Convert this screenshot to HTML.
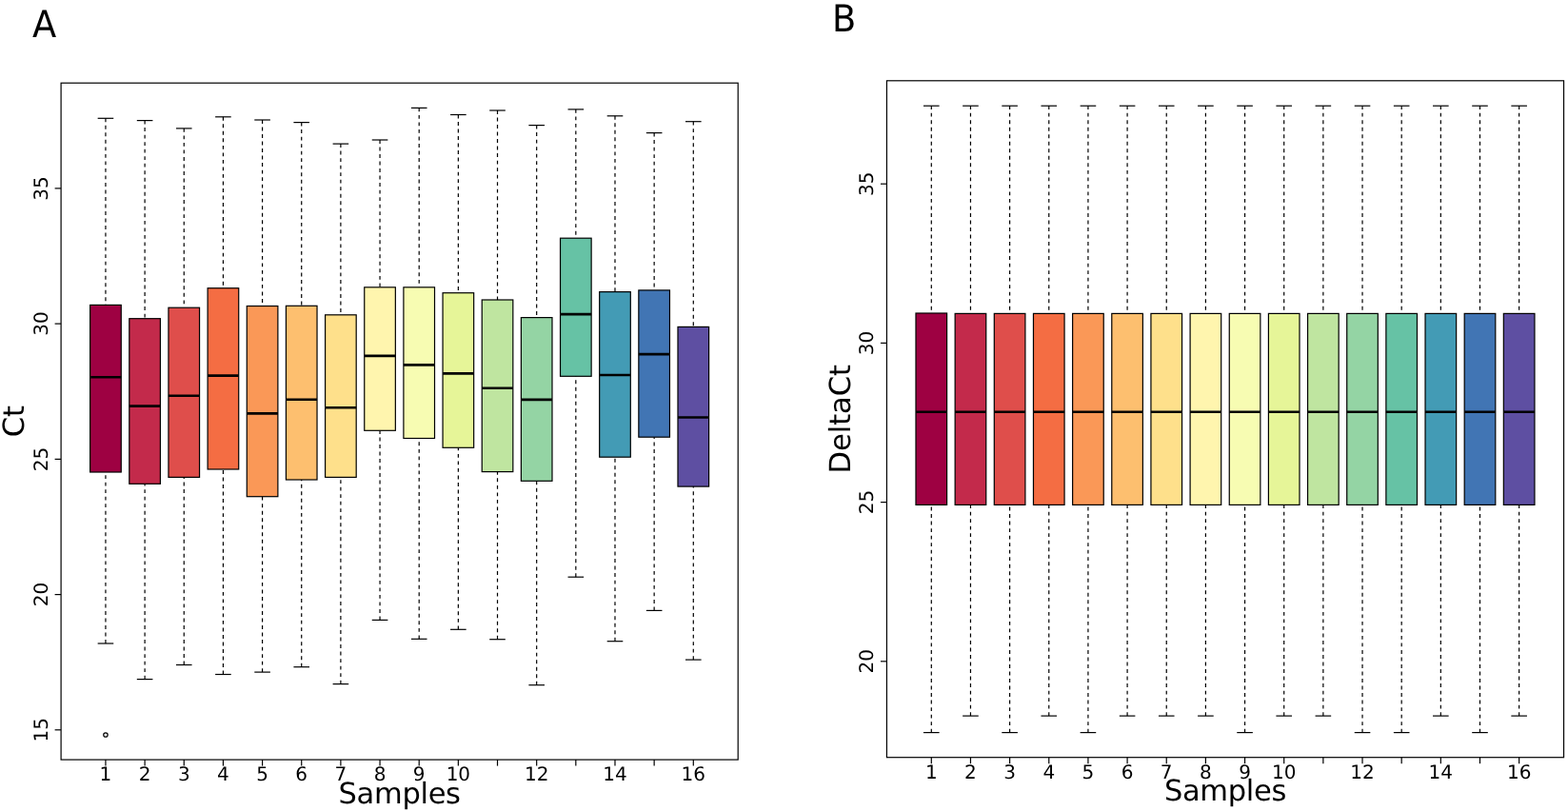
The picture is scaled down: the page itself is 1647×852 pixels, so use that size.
<!DOCTYPE html>
<html><head><meta charset="utf-8"><title>Boxplots</title>
<style>
html,body{margin:0;padding:0;background:#fff;}
body{width:1647px;height:852px;overflow:hidden;}
svg{display:block;}
</style></head>
<body>
<svg width="1647" height="852" viewBox="0 0 1647 852">
<rect width="1647" height="852" fill="#fff"/>
<text x="34.1" y="39" font-size="39" transform="translate(34.1 0) scale(0.945 1) translate(-34.1 0)" font-family="DejaVu Sans, Liberation Sans, sans-serif" text-rendering="geometricPrecision">A</text>
<text x="873.9" y="33.0" font-size="39" transform="translate(873.9 0) scale(0.945 1) translate(-873.9 0)" font-family="DejaVu Sans, Liberation Sans, sans-serif" text-rendering="geometricPrecision">B</text>
<line x1="110.95" y1="124.3" x2="110.95" y2="320.4" stroke="#000" stroke-width="1.2" stroke-dasharray="3.9 3.62"/>
<line x1="110.95" y1="676.0" x2="110.95" y2="496.0" stroke="#000" stroke-width="1.2" stroke-dasharray="3.9 3.62"/>
<line x1="102.65" y1="124.3" x2="119.25" y2="124.3" stroke="#000" stroke-width="1.2"/>
<line x1="102.65" y1="676.0" x2="119.25" y2="676.0" stroke="#000" stroke-width="1.2"/>
<rect x="94.65" y="320.4" width="32.60" height="175.60" fill="#9E0142" stroke="#000" stroke-width="1.2"/>
<line x1="94.65" y1="396.30" x2="127.25" y2="396.30" stroke="#000" stroke-width="2.6"/>
<line x1="152.11" y1="126.6" x2="152.11" y2="334.7" stroke="#000" stroke-width="1.2" stroke-dasharray="3.9 3.62"/>
<line x1="152.11" y1="713.6" x2="152.11" y2="508.3" stroke="#000" stroke-width="1.2" stroke-dasharray="3.9 3.62"/>
<line x1="143.81" y1="126.6" x2="160.41" y2="126.6" stroke="#000" stroke-width="1.2"/>
<line x1="143.81" y1="713.6" x2="160.41" y2="713.6" stroke="#000" stroke-width="1.2"/>
<rect x="135.81" y="334.7" width="32.60" height="173.60" fill="#C32A4B" stroke="#000" stroke-width="1.2"/>
<line x1="135.81" y1="426.60" x2="168.41" y2="426.60" stroke="#000" stroke-width="2.6"/>
<line x1="193.26" y1="134.9" x2="193.26" y2="323.2" stroke="#000" stroke-width="1.2" stroke-dasharray="3.9 3.62"/>
<line x1="193.26" y1="698.5" x2="193.26" y2="501.4" stroke="#000" stroke-width="1.2" stroke-dasharray="3.9 3.62"/>
<line x1="184.96" y1="134.9" x2="201.56" y2="134.9" stroke="#000" stroke-width="1.2"/>
<line x1="184.96" y1="698.5" x2="201.56" y2="698.5" stroke="#000" stroke-width="1.2"/>
<rect x="176.96" y="323.2" width="32.60" height="178.20" fill="#DF4E4B" stroke="#000" stroke-width="1.2"/>
<line x1="176.96" y1="415.80" x2="209.56" y2="415.80" stroke="#000" stroke-width="2.6"/>
<line x1="234.42" y1="122.8" x2="234.42" y2="302.7" stroke="#000" stroke-width="1.2" stroke-dasharray="3.9 3.62"/>
<line x1="234.42" y1="708.5" x2="234.42" y2="493.0" stroke="#000" stroke-width="1.2" stroke-dasharray="3.9 3.62"/>
<line x1="226.12" y1="122.8" x2="242.72" y2="122.8" stroke="#000" stroke-width="1.2"/>
<line x1="226.12" y1="708.5" x2="242.72" y2="708.5" stroke="#000" stroke-width="1.2"/>
<rect x="218.12" y="302.7" width="32.60" height="190.30" fill="#F46D43" stroke="#000" stroke-width="1.2"/>
<line x1="218.12" y1="394.60" x2="250.72" y2="394.60" stroke="#000" stroke-width="2.6"/>
<line x1="275.58" y1="126.0" x2="275.58" y2="321.5" stroke="#000" stroke-width="1.2" stroke-dasharray="3.9 3.62"/>
<line x1="275.58" y1="706.1" x2="275.58" y2="521.7" stroke="#000" stroke-width="1.2" stroke-dasharray="3.9 3.62"/>
<line x1="267.28" y1="126.0" x2="283.88" y2="126.0" stroke="#000" stroke-width="1.2"/>
<line x1="267.28" y1="706.1" x2="283.88" y2="706.1" stroke="#000" stroke-width="1.2"/>
<rect x="259.28" y="321.5" width="32.60" height="200.20" fill="#FA9857" stroke="#000" stroke-width="1.2"/>
<line x1="259.28" y1="434.40" x2="291.88" y2="434.40" stroke="#000" stroke-width="2.6"/>
<line x1="316.73" y1="128.6" x2="316.73" y2="321.3" stroke="#000" stroke-width="1.2" stroke-dasharray="3.9 3.62"/>
<line x1="316.73" y1="700.7" x2="316.73" y2="504.0" stroke="#000" stroke-width="1.2" stroke-dasharray="3.9 3.62"/>
<line x1="308.43" y1="128.6" x2="325.03" y2="128.6" stroke="#000" stroke-width="1.2"/>
<line x1="308.43" y1="700.7" x2="325.03" y2="700.7" stroke="#000" stroke-width="1.2"/>
<rect x="300.43" y="321.3" width="32.60" height="182.70" fill="#FDBF6F" stroke="#000" stroke-width="1.2"/>
<line x1="300.43" y1="419.70" x2="333.03" y2="419.70" stroke="#000" stroke-width="2.6"/>
<line x1="357.89" y1="151.1" x2="357.89" y2="330.8" stroke="#000" stroke-width="1.2" stroke-dasharray="3.9 3.62"/>
<line x1="357.89" y1="718.6" x2="357.89" y2="501.4" stroke="#000" stroke-width="1.2" stroke-dasharray="3.9 3.62"/>
<line x1="349.59" y1="151.1" x2="366.19" y2="151.1" stroke="#000" stroke-width="1.2"/>
<line x1="349.59" y1="718.6" x2="366.19" y2="718.6" stroke="#000" stroke-width="1.2"/>
<rect x="341.59" y="330.8" width="32.60" height="170.60" fill="#FEE08B" stroke="#000" stroke-width="1.2"/>
<line x1="341.59" y1="428.30" x2="374.19" y2="428.30" stroke="#000" stroke-width="2.6"/>
<line x1="399.05" y1="147.0" x2="399.05" y2="301.8" stroke="#000" stroke-width="1.2" stroke-dasharray="3.9 3.62"/>
<line x1="399.05" y1="651.4" x2="399.05" y2="452.3" stroke="#000" stroke-width="1.2" stroke-dasharray="3.9 3.62"/>
<line x1="390.75" y1="147.0" x2="407.35" y2="147.0" stroke="#000" stroke-width="1.2"/>
<line x1="390.75" y1="651.4" x2="407.35" y2="651.4" stroke="#000" stroke-width="1.2"/>
<rect x="382.75" y="301.8" width="32.60" height="150.50" fill="#FFF5AE" stroke="#000" stroke-width="1.2"/>
<line x1="382.75" y1="373.90" x2="415.35" y2="373.90" stroke="#000" stroke-width="2.6"/>
<line x1="440.21" y1="113.4" x2="440.21" y2="301.8" stroke="#000" stroke-width="1.2" stroke-dasharray="3.9 3.62"/>
<line x1="440.21" y1="671.3" x2="440.21" y2="460.5" stroke="#000" stroke-width="1.2" stroke-dasharray="3.9 3.62"/>
<line x1="431.91" y1="113.4" x2="448.51" y2="113.4" stroke="#000" stroke-width="1.2"/>
<line x1="431.91" y1="671.3" x2="448.51" y2="671.3" stroke="#000" stroke-width="1.2"/>
<rect x="423.91" y="301.8" width="32.60" height="158.70" fill="#F7FCB2" stroke="#000" stroke-width="1.2"/>
<line x1="423.91" y1="383.40" x2="456.51" y2="383.40" stroke="#000" stroke-width="2.6"/>
<line x1="481.36" y1="120.5" x2="481.36" y2="307.7" stroke="#000" stroke-width="1.2" stroke-dasharray="3.9 3.62"/>
<line x1="481.36" y1="661.3" x2="481.36" y2="470.3" stroke="#000" stroke-width="1.2" stroke-dasharray="3.9 3.62"/>
<line x1="473.06" y1="120.5" x2="489.66" y2="120.5" stroke="#000" stroke-width="1.2"/>
<line x1="473.06" y1="661.3" x2="489.66" y2="661.3" stroke="#000" stroke-width="1.2"/>
<rect x="465.06" y="307.7" width="32.60" height="162.60" fill="#E6F598" stroke="#000" stroke-width="1.2"/>
<line x1="465.06" y1="392.40" x2="497.66" y2="392.40" stroke="#000" stroke-width="2.6"/>
<line x1="522.52" y1="116.0" x2="522.52" y2="315.0" stroke="#000" stroke-width="1.2" stroke-dasharray="3.9 3.62"/>
<line x1="522.52" y1="671.7" x2="522.52" y2="495.6" stroke="#000" stroke-width="1.2" stroke-dasharray="3.9 3.62"/>
<line x1="514.22" y1="116.0" x2="530.82" y2="116.0" stroke="#000" stroke-width="1.2"/>
<line x1="514.22" y1="671.7" x2="530.82" y2="671.7" stroke="#000" stroke-width="1.2"/>
<rect x="506.22" y="315.0" width="32.60" height="180.60" fill="#BFE5A0" stroke="#000" stroke-width="1.2"/>
<line x1="506.22" y1="407.80" x2="538.82" y2="407.80" stroke="#000" stroke-width="2.6"/>
<line x1="563.68" y1="131.6" x2="563.68" y2="333.6" stroke="#000" stroke-width="1.2" stroke-dasharray="3.9 3.62"/>
<line x1="563.68" y1="719.7" x2="563.68" y2="505.3" stroke="#000" stroke-width="1.2" stroke-dasharray="3.9 3.62"/>
<line x1="555.38" y1="131.6" x2="571.98" y2="131.6" stroke="#000" stroke-width="1.2"/>
<line x1="555.38" y1="719.7" x2="571.98" y2="719.7" stroke="#000" stroke-width="1.2"/>
<rect x="547.38" y="333.6" width="32.60" height="171.70" fill="#94D4A4" stroke="#000" stroke-width="1.2"/>
<line x1="547.38" y1="419.90" x2="579.98" y2="419.90" stroke="#000" stroke-width="2.6"/>
<line x1="604.83" y1="114.9" x2="604.83" y2="250.2" stroke="#000" stroke-width="1.2" stroke-dasharray="3.9 3.62"/>
<line x1="604.83" y1="606.2" x2="604.83" y2="395.3" stroke="#000" stroke-width="1.2" stroke-dasharray="3.9 3.62"/>
<line x1="596.53" y1="114.9" x2="613.13" y2="114.9" stroke="#000" stroke-width="1.2"/>
<line x1="596.53" y1="606.2" x2="613.13" y2="606.2" stroke="#000" stroke-width="1.2"/>
<rect x="588.53" y="250.2" width="32.60" height="145.10" fill="#66C2A5" stroke="#000" stroke-width="1.2"/>
<line x1="588.53" y1="330.10" x2="621.13" y2="330.10" stroke="#000" stroke-width="2.6"/>
<line x1="645.99" y1="121.8" x2="645.99" y2="306.6" stroke="#000" stroke-width="1.2" stroke-dasharray="3.9 3.62"/>
<line x1="645.99" y1="673.7" x2="645.99" y2="480.2" stroke="#000" stroke-width="1.2" stroke-dasharray="3.9 3.62"/>
<line x1="637.69" y1="121.8" x2="654.29" y2="121.8" stroke="#000" stroke-width="1.2"/>
<line x1="637.69" y1="673.7" x2="654.29" y2="673.7" stroke="#000" stroke-width="1.2"/>
<rect x="629.69" y="306.6" width="32.60" height="173.60" fill="#439BB5" stroke="#000" stroke-width="1.2"/>
<line x1="629.69" y1="394.00" x2="662.29" y2="394.00" stroke="#000" stroke-width="2.6"/>
<line x1="687.15" y1="139.6" x2="687.15" y2="304.9" stroke="#000" stroke-width="1.2" stroke-dasharray="3.9 3.62"/>
<line x1="687.15" y1="641.4" x2="687.15" y2="459.2" stroke="#000" stroke-width="1.2" stroke-dasharray="3.9 3.62"/>
<line x1="678.85" y1="139.6" x2="695.45" y2="139.6" stroke="#000" stroke-width="1.2"/>
<line x1="678.85" y1="641.4" x2="695.45" y2="641.4" stroke="#000" stroke-width="1.2"/>
<rect x="670.85" y="304.9" width="32.60" height="154.30" fill="#4175B4" stroke="#000" stroke-width="1.2"/>
<line x1="670.85" y1="372.10" x2="703.45" y2="372.10" stroke="#000" stroke-width="2.6"/>
<line x1="728.30" y1="127.7" x2="728.30" y2="343.4" stroke="#000" stroke-width="1.2" stroke-dasharray="3.9 3.62"/>
<line x1="728.30" y1="693.1" x2="728.30" y2="511.1" stroke="#000" stroke-width="1.2" stroke-dasharray="3.9 3.62"/>
<line x1="720.00" y1="127.7" x2="736.60" y2="127.7" stroke="#000" stroke-width="1.2"/>
<line x1="720.00" y1="693.1" x2="736.60" y2="693.1" stroke="#000" stroke-width="1.2"/>
<rect x="712.00" y="343.4" width="32.60" height="167.70" fill="#5E4FA2" stroke="#000" stroke-width="1.2"/>
<line x1="712.00" y1="438.50" x2="744.60" y2="438.50" stroke="#000" stroke-width="2.6"/>
<circle cx="110.95" cy="771.98" r="2.2" fill="none" stroke="#000" stroke-width="1.2"/>
<rect x="64.1" y="87.2" width="711.10" height="710.90" fill="none" stroke="#000" stroke-width="1.2"/>
<line x1="110.95" y1="798.1" x2="110.95" y2="804.60" stroke="#000" stroke-width="1.2"/>
<text x="110.95" y="820.20" font-size="20" text-anchor="middle" font-family="DejaVu Sans, Liberation Sans, sans-serif" text-rendering="geometricPrecision">1</text>
<line x1="152.11" y1="798.1" x2="152.11" y2="804.60" stroke="#000" stroke-width="1.2"/>
<text x="152.11" y="820.20" font-size="20" text-anchor="middle" font-family="DejaVu Sans, Liberation Sans, sans-serif" text-rendering="geometricPrecision">2</text>
<line x1="193.26" y1="798.1" x2="193.26" y2="804.60" stroke="#000" stroke-width="1.2"/>
<text x="193.26" y="820.20" font-size="20" text-anchor="middle" font-family="DejaVu Sans, Liberation Sans, sans-serif" text-rendering="geometricPrecision">3</text>
<line x1="234.42" y1="798.1" x2="234.42" y2="804.60" stroke="#000" stroke-width="1.2"/>
<text x="234.42" y="820.20" font-size="20" text-anchor="middle" font-family="DejaVu Sans, Liberation Sans, sans-serif" text-rendering="geometricPrecision">4</text>
<line x1="275.58" y1="798.1" x2="275.58" y2="804.60" stroke="#000" stroke-width="1.2"/>
<text x="275.58" y="820.20" font-size="20" text-anchor="middle" font-family="DejaVu Sans, Liberation Sans, sans-serif" text-rendering="geometricPrecision">5</text>
<line x1="316.73" y1="798.1" x2="316.73" y2="804.60" stroke="#000" stroke-width="1.2"/>
<text x="316.73" y="820.20" font-size="20" text-anchor="middle" font-family="DejaVu Sans, Liberation Sans, sans-serif" text-rendering="geometricPrecision">6</text>
<line x1="357.89" y1="798.1" x2="357.89" y2="804.60" stroke="#000" stroke-width="1.2"/>
<text x="357.89" y="820.20" font-size="20" text-anchor="middle" font-family="DejaVu Sans, Liberation Sans, sans-serif" text-rendering="geometricPrecision">7</text>
<line x1="399.05" y1="798.1" x2="399.05" y2="804.60" stroke="#000" stroke-width="1.2"/>
<text x="399.05" y="820.20" font-size="20" text-anchor="middle" font-family="DejaVu Sans, Liberation Sans, sans-serif" text-rendering="geometricPrecision">8</text>
<line x1="440.21" y1="798.1" x2="440.21" y2="804.60" stroke="#000" stroke-width="1.2"/>
<text x="440.21" y="820.20" font-size="20" text-anchor="middle" font-family="DejaVu Sans, Liberation Sans, sans-serif" text-rendering="geometricPrecision">9</text>
<line x1="481.36" y1="798.1" x2="481.36" y2="804.60" stroke="#000" stroke-width="1.2"/>
<text x="481.36" y="820.20" font-size="20" text-anchor="middle" font-family="DejaVu Sans, Liberation Sans, sans-serif" text-rendering="geometricPrecision">10</text>
<line x1="522.52" y1="798.1" x2="522.52" y2="804.60" stroke="#000" stroke-width="1.2"/>
<line x1="563.68" y1="798.1" x2="563.68" y2="804.60" stroke="#000" stroke-width="1.2"/>
<text x="563.68" y="820.20" font-size="20" text-anchor="middle" font-family="DejaVu Sans, Liberation Sans, sans-serif" text-rendering="geometricPrecision">12</text>
<line x1="604.83" y1="798.1" x2="604.83" y2="804.60" stroke="#000" stroke-width="1.2"/>
<line x1="645.99" y1="798.1" x2="645.99" y2="804.60" stroke="#000" stroke-width="1.2"/>
<text x="645.99" y="820.20" font-size="20" text-anchor="middle" font-family="DejaVu Sans, Liberation Sans, sans-serif" text-rendering="geometricPrecision">14</text>
<line x1="687.15" y1="798.1" x2="687.15" y2="804.60" stroke="#000" stroke-width="1.2"/>
<line x1="728.30" y1="798.1" x2="728.30" y2="804.60" stroke="#000" stroke-width="1.2"/>
<text x="728.30" y="820.20" font-size="20" text-anchor="middle" font-family="DejaVu Sans, Liberation Sans, sans-serif" text-rendering="geometricPrecision">16</text>
<line x1="57.60" y1="766.8" x2="64.1" y2="766.8" stroke="#000" stroke-width="1.2"/>
<text x="50.10" y="766.8" font-size="20" text-anchor="middle" transform="rotate(-90 50.10 766.8)" font-family="DejaVu Sans, Liberation Sans, sans-serif" text-rendering="geometricPrecision">15</text>
<line x1="57.60" y1="624.6" x2="64.1" y2="624.6" stroke="#000" stroke-width="1.2"/>
<text x="50.10" y="624.6" font-size="20" text-anchor="middle" transform="rotate(-90 50.10 624.6)" font-family="DejaVu Sans, Liberation Sans, sans-serif" text-rendering="geometricPrecision">20</text>
<line x1="57.60" y1="482.4" x2="64.1" y2="482.4" stroke="#000" stroke-width="1.2"/>
<text x="50.10" y="482.4" font-size="20" text-anchor="middle" transform="rotate(-90 50.10 482.4)" font-family="DejaVu Sans, Liberation Sans, sans-serif" text-rendering="geometricPrecision">25</text>
<line x1="57.60" y1="340.1" x2="64.1" y2="340.1" stroke="#000" stroke-width="1.2"/>
<text x="50.10" y="340.1" font-size="20" text-anchor="middle" transform="rotate(-90 50.10 340.1)" font-family="DejaVu Sans, Liberation Sans, sans-serif" text-rendering="geometricPrecision">30</text>
<line x1="57.60" y1="197.9" x2="64.1" y2="197.9" stroke="#000" stroke-width="1.2"/>
<text x="50.10" y="197.9" font-size="20" text-anchor="middle" transform="rotate(-90 50.10 197.9)" font-family="DejaVu Sans, Liberation Sans, sans-serif" text-rendering="geometricPrecision">35</text>
<text x="419.65" y="843.70" font-size="30.5" letter-spacing="-0.3" text-anchor="middle" font-family="DejaVu Sans, Liberation Sans, sans-serif" text-rendering="geometricPrecision">Samples</text>
<text x="25.20" y="442.65" font-size="30.5" text-anchor="middle" transform="rotate(-90 25.20 442.65)" font-family="DejaVu Sans, Liberation Sans, sans-serif" text-rendering="geometricPrecision">Ct</text>
<line x1="978.30" y1="111.2" x2="978.30" y2="329.0" stroke="#000" stroke-width="1.2" stroke-dasharray="3.9 3.62"/>
<line x1="978.30" y1="769.6" x2="978.30" y2="530.4" stroke="#000" stroke-width="1.2" stroke-dasharray="3.9 3.62"/>
<line x1="970.00" y1="111.2" x2="986.60" y2="111.2" stroke="#000" stroke-width="1.2"/>
<line x1="970.00" y1="769.6" x2="986.60" y2="769.6" stroke="#000" stroke-width="1.2"/>
<rect x="962.00" y="329.0" width="32.60" height="201.40" fill="#9E0142" stroke="#000" stroke-width="1.2"/>
<line x1="962.00" y1="432.80" x2="994.60" y2="432.80" stroke="#000" stroke-width="2.6"/>
<line x1="1019.46" y1="111.2" x2="1019.46" y2="329.4" stroke="#000" stroke-width="1.2" stroke-dasharray="3.9 3.62"/>
<line x1="1019.46" y1="752.1" x2="1019.46" y2="530.4" stroke="#000" stroke-width="1.2" stroke-dasharray="3.9 3.62"/>
<line x1="1011.16" y1="111.2" x2="1027.76" y2="111.2" stroke="#000" stroke-width="1.2"/>
<line x1="1011.16" y1="752.1" x2="1027.76" y2="752.1" stroke="#000" stroke-width="1.2"/>
<rect x="1003.16" y="329.4" width="32.60" height="201.00" fill="#C32A4B" stroke="#000" stroke-width="1.2"/>
<line x1="1003.16" y1="432.80" x2="1035.76" y2="432.80" stroke="#000" stroke-width="2.6"/>
<line x1="1060.61" y1="111.2" x2="1060.61" y2="329.4" stroke="#000" stroke-width="1.2" stroke-dasharray="3.9 3.62"/>
<line x1="1060.61" y1="769.6" x2="1060.61" y2="530.4" stroke="#000" stroke-width="1.2" stroke-dasharray="3.9 3.62"/>
<line x1="1052.31" y1="111.2" x2="1068.91" y2="111.2" stroke="#000" stroke-width="1.2"/>
<line x1="1052.31" y1="769.6" x2="1068.91" y2="769.6" stroke="#000" stroke-width="1.2"/>
<rect x="1044.31" y="329.4" width="32.60" height="201.00" fill="#DF4E4B" stroke="#000" stroke-width="1.2"/>
<line x1="1044.31" y1="432.80" x2="1076.91" y2="432.80" stroke="#000" stroke-width="2.6"/>
<line x1="1101.77" y1="111.2" x2="1101.77" y2="329.4" stroke="#000" stroke-width="1.2" stroke-dasharray="3.9 3.62"/>
<line x1="1101.77" y1="752.1" x2="1101.77" y2="530.4" stroke="#000" stroke-width="1.2" stroke-dasharray="3.9 3.62"/>
<line x1="1093.47" y1="111.2" x2="1110.07" y2="111.2" stroke="#000" stroke-width="1.2"/>
<line x1="1093.47" y1="752.1" x2="1110.07" y2="752.1" stroke="#000" stroke-width="1.2"/>
<rect x="1085.47" y="329.4" width="32.60" height="201.00" fill="#F46D43" stroke="#000" stroke-width="1.2"/>
<line x1="1085.47" y1="432.80" x2="1118.07" y2="432.80" stroke="#000" stroke-width="2.6"/>
<line x1="1142.93" y1="111.2" x2="1142.93" y2="329.4" stroke="#000" stroke-width="1.2" stroke-dasharray="3.9 3.62"/>
<line x1="1142.93" y1="769.6" x2="1142.93" y2="530.4" stroke="#000" stroke-width="1.2" stroke-dasharray="3.9 3.62"/>
<line x1="1134.63" y1="111.2" x2="1151.23" y2="111.2" stroke="#000" stroke-width="1.2"/>
<line x1="1134.63" y1="769.6" x2="1151.23" y2="769.6" stroke="#000" stroke-width="1.2"/>
<rect x="1126.63" y="329.4" width="32.60" height="201.00" fill="#FA9857" stroke="#000" stroke-width="1.2"/>
<line x1="1126.63" y1="432.80" x2="1159.23" y2="432.80" stroke="#000" stroke-width="2.6"/>
<line x1="1184.09" y1="111.2" x2="1184.09" y2="329.4" stroke="#000" stroke-width="1.2" stroke-dasharray="3.9 3.62"/>
<line x1="1184.09" y1="752.1" x2="1184.09" y2="530.4" stroke="#000" stroke-width="1.2" stroke-dasharray="3.9 3.62"/>
<line x1="1175.79" y1="111.2" x2="1192.38" y2="111.2" stroke="#000" stroke-width="1.2"/>
<line x1="1175.79" y1="752.1" x2="1192.38" y2="752.1" stroke="#000" stroke-width="1.2"/>
<rect x="1167.79" y="329.4" width="32.60" height="201.00" fill="#FDBF6F" stroke="#000" stroke-width="1.2"/>
<line x1="1167.79" y1="432.80" x2="1200.38" y2="432.80" stroke="#000" stroke-width="2.6"/>
<line x1="1225.24" y1="111.2" x2="1225.24" y2="329.4" stroke="#000" stroke-width="1.2" stroke-dasharray="3.9 3.62"/>
<line x1="1225.24" y1="752.1" x2="1225.24" y2="530.4" stroke="#000" stroke-width="1.2" stroke-dasharray="3.9 3.62"/>
<line x1="1216.94" y1="111.2" x2="1233.54" y2="111.2" stroke="#000" stroke-width="1.2"/>
<line x1="1216.94" y1="752.1" x2="1233.54" y2="752.1" stroke="#000" stroke-width="1.2"/>
<rect x="1208.94" y="329.4" width="32.60" height="201.00" fill="#FEE08B" stroke="#000" stroke-width="1.2"/>
<line x1="1208.94" y1="432.80" x2="1241.54" y2="432.80" stroke="#000" stroke-width="2.6"/>
<line x1="1266.40" y1="111.2" x2="1266.40" y2="329.4" stroke="#000" stroke-width="1.2" stroke-dasharray="3.9 3.62"/>
<line x1="1266.40" y1="752.1" x2="1266.40" y2="530.4" stroke="#000" stroke-width="1.2" stroke-dasharray="3.9 3.62"/>
<line x1="1258.10" y1="111.2" x2="1274.70" y2="111.2" stroke="#000" stroke-width="1.2"/>
<line x1="1258.10" y1="752.1" x2="1274.70" y2="752.1" stroke="#000" stroke-width="1.2"/>
<rect x="1250.10" y="329.4" width="32.60" height="201.00" fill="#FFF5AE" stroke="#000" stroke-width="1.2"/>
<line x1="1250.10" y1="432.80" x2="1282.70" y2="432.80" stroke="#000" stroke-width="2.6"/>
<line x1="1307.56" y1="111.2" x2="1307.56" y2="329.4" stroke="#000" stroke-width="1.2" stroke-dasharray="3.9 3.62"/>
<line x1="1307.56" y1="769.6" x2="1307.56" y2="530.4" stroke="#000" stroke-width="1.2" stroke-dasharray="3.9 3.62"/>
<line x1="1299.26" y1="111.2" x2="1315.86" y2="111.2" stroke="#000" stroke-width="1.2"/>
<line x1="1299.26" y1="769.6" x2="1315.86" y2="769.6" stroke="#000" stroke-width="1.2"/>
<rect x="1291.26" y="329.4" width="32.60" height="201.00" fill="#F7FCB2" stroke="#000" stroke-width="1.2"/>
<line x1="1291.26" y1="432.80" x2="1323.86" y2="432.80" stroke="#000" stroke-width="2.6"/>
<line x1="1348.71" y1="111.2" x2="1348.71" y2="329.4" stroke="#000" stroke-width="1.2" stroke-dasharray="3.9 3.62"/>
<line x1="1348.71" y1="752.1" x2="1348.71" y2="530.4" stroke="#000" stroke-width="1.2" stroke-dasharray="3.9 3.62"/>
<line x1="1340.41" y1="111.2" x2="1357.01" y2="111.2" stroke="#000" stroke-width="1.2"/>
<line x1="1340.41" y1="752.1" x2="1357.01" y2="752.1" stroke="#000" stroke-width="1.2"/>
<rect x="1332.41" y="329.4" width="32.60" height="201.00" fill="#E6F598" stroke="#000" stroke-width="1.2"/>
<line x1="1332.41" y1="432.80" x2="1365.01" y2="432.80" stroke="#000" stroke-width="2.6"/>
<line x1="1389.87" y1="111.2" x2="1389.87" y2="329.4" stroke="#000" stroke-width="1.2" stroke-dasharray="3.9 3.62"/>
<line x1="1389.87" y1="752.1" x2="1389.87" y2="530.4" stroke="#000" stroke-width="1.2" stroke-dasharray="3.9 3.62"/>
<line x1="1381.57" y1="111.2" x2="1398.17" y2="111.2" stroke="#000" stroke-width="1.2"/>
<line x1="1381.57" y1="752.1" x2="1398.17" y2="752.1" stroke="#000" stroke-width="1.2"/>
<rect x="1373.57" y="329.4" width="32.60" height="201.00" fill="#BFE5A0" stroke="#000" stroke-width="1.2"/>
<line x1="1373.57" y1="432.80" x2="1406.17" y2="432.80" stroke="#000" stroke-width="2.6"/>
<line x1="1431.03" y1="111.2" x2="1431.03" y2="329.4" stroke="#000" stroke-width="1.2" stroke-dasharray="3.9 3.62"/>
<line x1="1431.03" y1="769.6" x2="1431.03" y2="530.4" stroke="#000" stroke-width="1.2" stroke-dasharray="3.9 3.62"/>
<line x1="1422.73" y1="111.2" x2="1439.33" y2="111.2" stroke="#000" stroke-width="1.2"/>
<line x1="1422.73" y1="769.6" x2="1439.33" y2="769.6" stroke="#000" stroke-width="1.2"/>
<rect x="1414.73" y="329.4" width="32.60" height="201.00" fill="#94D4A4" stroke="#000" stroke-width="1.2"/>
<line x1="1414.73" y1="432.80" x2="1447.33" y2="432.80" stroke="#000" stroke-width="2.6"/>
<line x1="1472.18" y1="111.2" x2="1472.18" y2="329.4" stroke="#000" stroke-width="1.2" stroke-dasharray="3.9 3.62"/>
<line x1="1472.18" y1="769.6" x2="1472.18" y2="530.4" stroke="#000" stroke-width="1.2" stroke-dasharray="3.9 3.62"/>
<line x1="1463.88" y1="111.2" x2="1480.48" y2="111.2" stroke="#000" stroke-width="1.2"/>
<line x1="1463.88" y1="769.6" x2="1480.48" y2="769.6" stroke="#000" stroke-width="1.2"/>
<rect x="1455.88" y="329.4" width="32.60" height="201.00" fill="#66C2A5" stroke="#000" stroke-width="1.2"/>
<line x1="1455.88" y1="432.80" x2="1488.48" y2="432.80" stroke="#000" stroke-width="2.6"/>
<line x1="1513.34" y1="111.2" x2="1513.34" y2="329.4" stroke="#000" stroke-width="1.2" stroke-dasharray="3.9 3.62"/>
<line x1="1513.34" y1="752.1" x2="1513.34" y2="530.4" stroke="#000" stroke-width="1.2" stroke-dasharray="3.9 3.62"/>
<line x1="1505.04" y1="111.2" x2="1521.64" y2="111.2" stroke="#000" stroke-width="1.2"/>
<line x1="1505.04" y1="752.1" x2="1521.64" y2="752.1" stroke="#000" stroke-width="1.2"/>
<rect x="1497.04" y="329.4" width="32.60" height="201.00" fill="#439BB5" stroke="#000" stroke-width="1.2"/>
<line x1="1497.04" y1="432.80" x2="1529.64" y2="432.80" stroke="#000" stroke-width="2.6"/>
<line x1="1554.50" y1="111.2" x2="1554.50" y2="329.4" stroke="#000" stroke-width="1.2" stroke-dasharray="3.9 3.62"/>
<line x1="1554.50" y1="769.6" x2="1554.50" y2="530.4" stroke="#000" stroke-width="1.2" stroke-dasharray="3.9 3.62"/>
<line x1="1546.20" y1="111.2" x2="1562.80" y2="111.2" stroke="#000" stroke-width="1.2"/>
<line x1="1546.20" y1="769.6" x2="1562.80" y2="769.6" stroke="#000" stroke-width="1.2"/>
<rect x="1538.20" y="329.4" width="32.60" height="201.00" fill="#4175B4" stroke="#000" stroke-width="1.2"/>
<line x1="1538.20" y1="432.80" x2="1570.80" y2="432.80" stroke="#000" stroke-width="2.6"/>
<line x1="1595.65" y1="111.2" x2="1595.65" y2="329.4" stroke="#000" stroke-width="1.2" stroke-dasharray="3.9 3.62"/>
<line x1="1595.65" y1="752.1" x2="1595.65" y2="530.4" stroke="#000" stroke-width="1.2" stroke-dasharray="3.9 3.62"/>
<line x1="1587.35" y1="111.2" x2="1603.95" y2="111.2" stroke="#000" stroke-width="1.2"/>
<line x1="1587.35" y1="752.1" x2="1603.95" y2="752.1" stroke="#000" stroke-width="1.2"/>
<rect x="1579.35" y="329.4" width="32.60" height="201.00" fill="#5E4FA2" stroke="#000" stroke-width="1.2"/>
<line x1="1579.35" y1="432.80" x2="1611.95" y2="432.80" stroke="#000" stroke-width="2.6"/>
<rect x="931.45" y="84.8" width="711.10" height="710.90" fill="none" stroke="#000" stroke-width="1.2"/>
<line x1="978.30" y1="795.7" x2="978.30" y2="802.20" stroke="#000" stroke-width="1.2"/>
<text x="978.30" y="817.80" font-size="20" text-anchor="middle" font-family="DejaVu Sans, Liberation Sans, sans-serif" text-rendering="geometricPrecision">1</text>
<line x1="1019.46" y1="795.7" x2="1019.46" y2="802.20" stroke="#000" stroke-width="1.2"/>
<text x="1019.46" y="817.80" font-size="20" text-anchor="middle" font-family="DejaVu Sans, Liberation Sans, sans-serif" text-rendering="geometricPrecision">2</text>
<line x1="1060.61" y1="795.7" x2="1060.61" y2="802.20" stroke="#000" stroke-width="1.2"/>
<text x="1060.61" y="817.80" font-size="20" text-anchor="middle" font-family="DejaVu Sans, Liberation Sans, sans-serif" text-rendering="geometricPrecision">3</text>
<line x1="1101.77" y1="795.7" x2="1101.77" y2="802.20" stroke="#000" stroke-width="1.2"/>
<text x="1101.77" y="817.80" font-size="20" text-anchor="middle" font-family="DejaVu Sans, Liberation Sans, sans-serif" text-rendering="geometricPrecision">4</text>
<line x1="1142.93" y1="795.7" x2="1142.93" y2="802.20" stroke="#000" stroke-width="1.2"/>
<text x="1142.93" y="817.80" font-size="20" text-anchor="middle" font-family="DejaVu Sans, Liberation Sans, sans-serif" text-rendering="geometricPrecision">5</text>
<line x1="1184.09" y1="795.7" x2="1184.09" y2="802.20" stroke="#000" stroke-width="1.2"/>
<text x="1184.09" y="817.80" font-size="20" text-anchor="middle" font-family="DejaVu Sans, Liberation Sans, sans-serif" text-rendering="geometricPrecision">6</text>
<line x1="1225.24" y1="795.7" x2="1225.24" y2="802.20" stroke="#000" stroke-width="1.2"/>
<text x="1225.24" y="817.80" font-size="20" text-anchor="middle" font-family="DejaVu Sans, Liberation Sans, sans-serif" text-rendering="geometricPrecision">7</text>
<line x1="1266.40" y1="795.7" x2="1266.40" y2="802.20" stroke="#000" stroke-width="1.2"/>
<text x="1266.40" y="817.80" font-size="20" text-anchor="middle" font-family="DejaVu Sans, Liberation Sans, sans-serif" text-rendering="geometricPrecision">8</text>
<line x1="1307.56" y1="795.7" x2="1307.56" y2="802.20" stroke="#000" stroke-width="1.2"/>
<text x="1307.56" y="817.80" font-size="20" text-anchor="middle" font-family="DejaVu Sans, Liberation Sans, sans-serif" text-rendering="geometricPrecision">9</text>
<line x1="1348.71" y1="795.7" x2="1348.71" y2="802.20" stroke="#000" stroke-width="1.2"/>
<text x="1348.71" y="817.80" font-size="20" text-anchor="middle" font-family="DejaVu Sans, Liberation Sans, sans-serif" text-rendering="geometricPrecision">10</text>
<line x1="1389.87" y1="795.7" x2="1389.87" y2="802.20" stroke="#000" stroke-width="1.2"/>
<line x1="1431.03" y1="795.7" x2="1431.03" y2="802.20" stroke="#000" stroke-width="1.2"/>
<text x="1431.03" y="817.80" font-size="20" text-anchor="middle" font-family="DejaVu Sans, Liberation Sans, sans-serif" text-rendering="geometricPrecision">12</text>
<line x1="1472.18" y1="795.7" x2="1472.18" y2="802.20" stroke="#000" stroke-width="1.2"/>
<line x1="1513.34" y1="795.7" x2="1513.34" y2="802.20" stroke="#000" stroke-width="1.2"/>
<text x="1513.34" y="817.80" font-size="20" text-anchor="middle" font-family="DejaVu Sans, Liberation Sans, sans-serif" text-rendering="geometricPrecision">14</text>
<line x1="1554.50" y1="795.7" x2="1554.50" y2="802.20" stroke="#000" stroke-width="1.2"/>
<line x1="1595.65" y1="795.7" x2="1595.65" y2="802.20" stroke="#000" stroke-width="1.2"/>
<text x="1595.65" y="817.80" font-size="20" text-anchor="middle" font-family="DejaVu Sans, Liberation Sans, sans-serif" text-rendering="geometricPrecision">16</text>
<line x1="924.95" y1="694.8" x2="931.45" y2="694.8" stroke="#000" stroke-width="1.2"/>
<text x="917.45" y="694.8" font-size="20" text-anchor="middle" transform="rotate(-90 917.45 694.8)" font-family="DejaVu Sans, Liberation Sans, sans-serif" text-rendering="geometricPrecision">20</text>
<line x1="924.95" y1="527.6" x2="931.45" y2="527.6" stroke="#000" stroke-width="1.2"/>
<text x="917.45" y="527.6" font-size="20" text-anchor="middle" transform="rotate(-90 917.45 527.6)" font-family="DejaVu Sans, Liberation Sans, sans-serif" text-rendering="geometricPrecision">25</text>
<line x1="924.95" y1="360.4" x2="931.45" y2="360.4" stroke="#000" stroke-width="1.2"/>
<text x="917.45" y="360.4" font-size="20" text-anchor="middle" transform="rotate(-90 917.45 360.4)" font-family="DejaVu Sans, Liberation Sans, sans-serif" text-rendering="geometricPrecision">30</text>
<line x1="924.95" y1="193.2" x2="931.45" y2="193.2" stroke="#000" stroke-width="1.2"/>
<text x="917.45" y="193.2" font-size="20" text-anchor="middle" transform="rotate(-90 917.45 193.2)" font-family="DejaVu Sans, Liberation Sans, sans-serif" text-rendering="geometricPrecision">35</text>
<text x="1287.00" y="841.30" font-size="30.5" letter-spacing="-0.3" text-anchor="middle" font-family="DejaVu Sans, Liberation Sans, sans-serif" text-rendering="geometricPrecision">Samples</text>
<text x="892.55" y="440.25" font-size="30.5" text-anchor="middle" transform="rotate(-90 892.55 440.25)" font-family="DejaVu Sans, Liberation Sans, sans-serif" text-rendering="geometricPrecision">DeltaCt</text>
</svg>
</body></html>
